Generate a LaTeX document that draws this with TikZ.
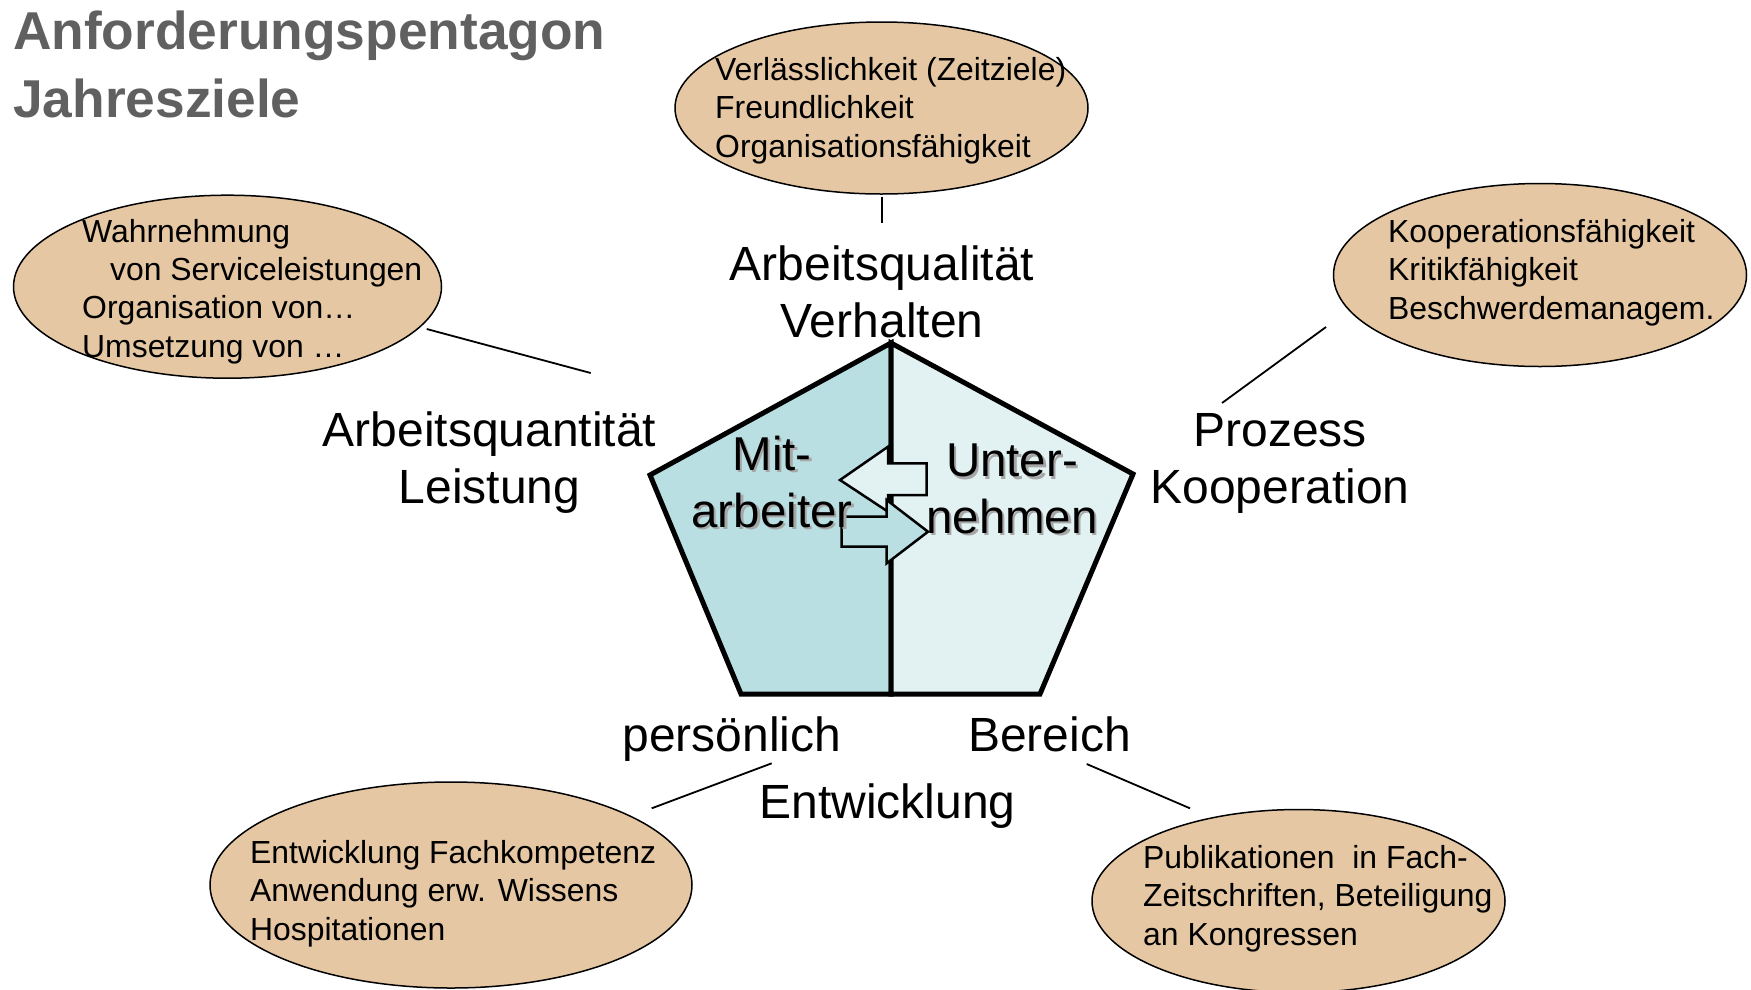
\documentclass[tikz,border=0pt]{standalone}
\usepackage{fontspec}
\setmainfont{Liberation Sans}
\usetikzlibrary{shapes.geometric}
\definecolor{bubblefill}{HTML}{E5C8A3}
\definecolor{staffcol}{HTML}{B9DFE2}
\definecolor{firmcol}{HTML}{E2F2F3}
\definecolor{titlegray}{HTML}{606060}

\begin{document}
\begin{tikzpicture}[x=1pt,y=-1pt,
  bubble/.style={draw=black, line width=1.5pt, fill=bubblefill, ellipse, inner sep=0pt, outer sep=0pt},
  itemtxt/.style={anchor=base west, inner sep=0pt, font=\fontsize{31.9}{38}\selectfont},
  axistxt/.style={anchor=base, inner sep=0pt, font=\fontsize{48}{56}\selectfont},
  centretxt/.style={anchor=base, inner sep=0pt, font=\fontsize{47.5}{56}\selectfont},
  shadetxt/.style={centretxt, text=black!35},
  titletxt/.style={anchor=base west, inner sep=0pt, text=titlegray, font=\fontsize{53.3}{60}\selectfont\bfseries},
  lead/.style={line width=1.8pt},
  half/.style={draw=black, line width=5pt, line join=miter},
  swaparrow/.style={draw=black, line width=2.5pt, line join=miter},
]
\useasboundingbox (0,0) rectangle (1751,989);

% title
\node[titletxt] (title1) at (13,49) {Anforderungspentagon};
\node[titletxt] (title2) at (13,117.5) {Jahresziele};

% the pentagon, split into two halves
\path[half, fill=staffcol] (891,343) -- (650,475) -- (741,694) -- (891,694) -- cycle;
\path[half, fill=firmcol] (891,343) -- (1133,474) -- (1040,694) -- (891,694) -- cycle;

% exchange arrows
\path[swaparrow, fill=firmcol] (840,480) -- (888,446.7) -- (888,463.3) -- (926.7,463.3)
  -- (926.7,495) -- (888,495) -- (888,511.7) -- cycle;
\path[swaparrow, fill=staffcol] (841.7,516.7) -- (886.7,516.7) -- (886.7,500) -- (928,531.7)
  -- (886.7,563.3) -- (886.7,546.7) -- (841.7,546.7) -- cycle;

% halves' labels with a soft shadow
\node[shadetxt] (mit1s) at (774.5,472.5) {Mit-};
\node[shadetxt] (mit2s) at (774.5,529.5) {arbeiter};
\node[shadetxt] (unt1s) at (1014.5,479) {Unter-};
\node[shadetxt] (unt2s) at (1014.5,535.5) {nehmen};
\node[centretxt] (mit1) at (772,470) {Mit-};
\node[centretxt] (mit2) at (772,527) {arbeiter};
\node[centretxt] (unt1) at (1012,476.5) {Unter-};
\node[centretxt] (unt2) at (1012,533) {nehmen};

% corner labels
\node[axistxt] (aq1) at (882,280) {Arbeitsqualität};
\node[axistxt] (aq2) at (882,337) {Verhalten};
\node[axistxt] (an1) at (489.5,446) {Arbeitsquantität};
\node[axistxt] (an2) at (489.5,503) {Leistung};
\node[axistxt] (pr1) at (1280,446) {Prozess};
\node[axistxt] (pr2) at (1280,503) {Kooperation};
\node[axistxt] (pe) at (731.7,751.7) {persönlich};
\node[axistxt] (be) at (1049.5,751.7) {Bereich};
\node[axistxt] (en) at (887.5,818.3) {Entwicklung};

% bubbles
\node[bubble, minimum width=413pt, minimum height=172pt] (bq) at (881.5,108) {};
\node[bubble, minimum width=428pt, minimum height=183pt] (bn) at (227.5,286.7) {};
\node[bubble, minimum width=413pt, minimum height=183pt] (bp) at (1540,275) {};
\node[bubble, minimum width=482pt, minimum height=206pt] (bpe) at (451,885) {};
\node[bubble, minimum width=413pt, minimum height=183pt] (bbe) at (1298.5,901) {};

% bubble texts
\node[itemtxt] (q1) at (715,80) {Verlässlichkeit (Zeitziele)};
\node[itemtxt] (q2) at (715,118.5) {Freundlichkeit};
\node[itemtxt] (q3) at (715,157) {Organisationsfähigkeit};

\node[itemtxt] (n1) at (82,242) {Wahrnehmung};
\node[itemtxt] (n2) at (110,280.3) {von Serviceleistungen};
\node[itemtxt] (n3) at (82,318.6) {Organisation von…};
\node[itemtxt] (n4) at (82,357) {Umsetzung von …};

\node[itemtxt] (p1) at (1388,242) {Kooperationsfähigkeit};
\node[itemtxt] (p2) at (1388,280.5) {Kritikfähigkeit};
\node[itemtxt] (p3) at (1388,319) {Beschwerdemanagem.};

\node[itemtxt] (e1) at (250,863.5) {Entwicklung Fachkompetenz};
\node[itemtxt] (e2) at (250,901.8) {Anwendung erw. Wissens};
\node[itemtxt] (e3) at (250,940) {Hospitationen};

\node[itemtxt] (b1) at (1143,868.5) {Publikationen\ \ in Fach-};
\node[itemtxt] (b2) at (1143,906.8) {Zeitschriften, Beteiligung};
\node[itemtxt] (b3) at (1143,945) {an Kongressen};

% leader lines
\coordinate (lq0) at (882,196.5);   \coordinate (lq1) at (882,223);
\coordinate (ln0) at (426.7,329);   \coordinate (ln1) at (590.7,373);
\coordinate (lp0) at (1326,327);    \coordinate (lp1) at (1222,403);
\coordinate (lpe0) at (651.7,808.3); \coordinate (lpe1) at (771.7,763.3);
\coordinate (lbe0) at (1190,808.3); \coordinate (lbe1) at (1086.7,764);
\draw[lead] (lq0) -- (lq1);
\draw[lead] (ln0) -- (ln1);
\draw[lead] (lp0) -- (lp1);
\draw[lead] (lpe0) -- (lpe1);
\draw[lead] (lbe0) -- (lbe1);
\end{tikzpicture}
\end{document}
